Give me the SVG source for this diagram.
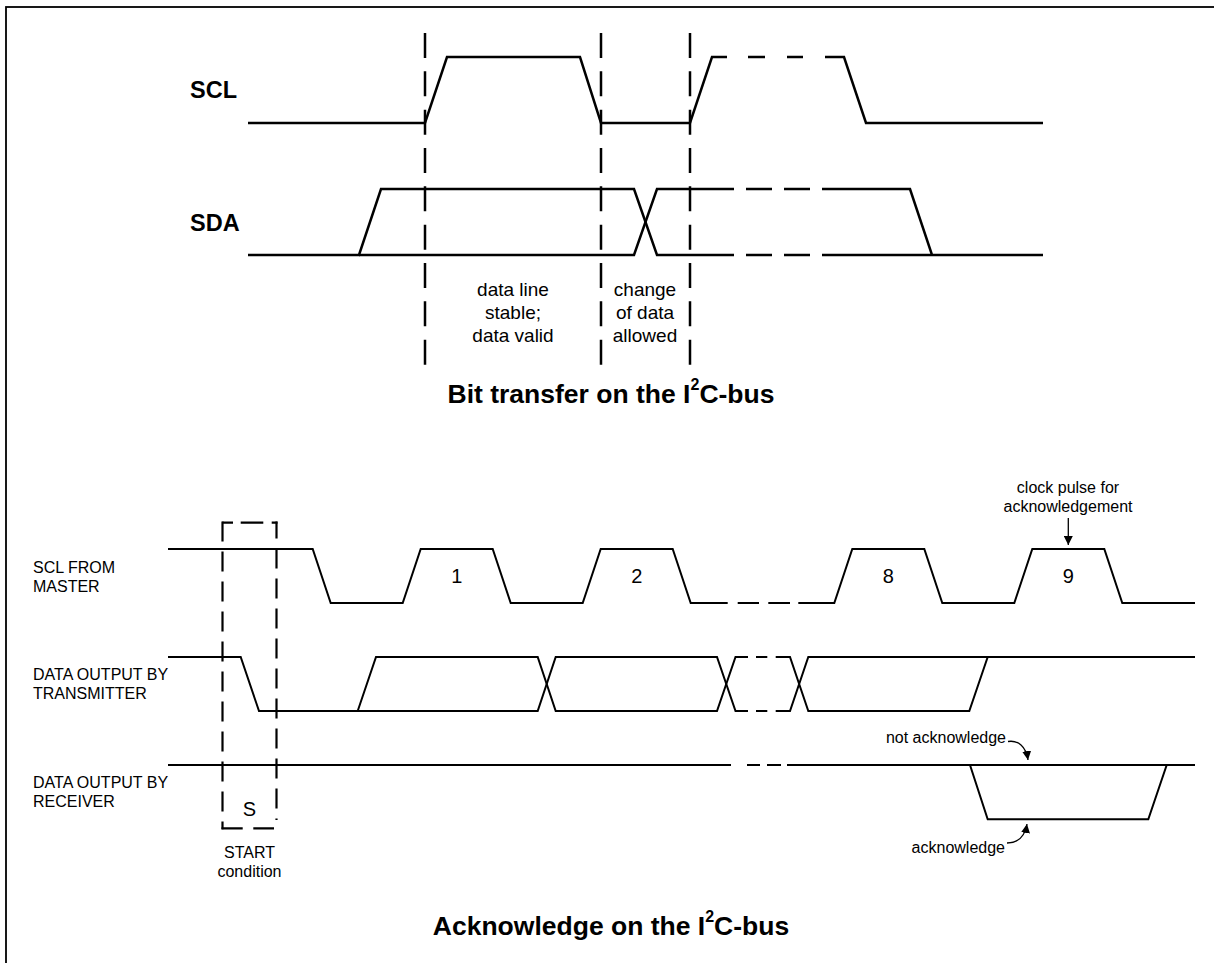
<svg xmlns="http://www.w3.org/2000/svg" width="1214" height="963" viewBox="0 0 1214 963">
<style>
.wt{fill:none;stroke:#000;stroke-width:2.5;stroke-linejoin:miter;stroke-linecap:butt}
.wb{fill:none;stroke:#000;stroke-width:2;stroke-linejoin:miter;stroke-linecap:butt}
.vd{fill:none;stroke:#000;stroke-width:2.5;stroke-dasharray:25 13.33}
.bx{fill:none;stroke:#000;stroke-width:2.2;stroke-dasharray:20 10}
.bxs{fill:none;stroke:#000;stroke-width:2.2}
.lblB{font-family:"Liberation Sans",Arial,sans-serif;font-weight:bold;font-size:23.5px;fill:#000}
.ttl{font-family:"Liberation Sans",Arial,sans-serif;font-weight:bold;font-size:26.5px;fill:#000;text-anchor:middle}
.t19{font-family:"Liberation Sans",Arial,sans-serif;font-size:19px;fill:#000;text-anchor:middle}
.t16{font-family:"Liberation Sans",Arial,sans-serif;font-size:16px;fill:#000}
.t20{font-family:"Liberation Sans",Arial,sans-serif;font-size:20px;fill:#000;text-anchor:middle}
.arr{fill:none;stroke:#000;stroke-width:1.3}
</style>
<defs>
<marker id="ah" viewBox="0 0 10 10" refX="10" refY="5" markerWidth="9" markerHeight="9" markerUnits="userSpaceOnUse" orient="auto">
<path d="M0,0 L10,5 L0,10 z" fill="#000"/>
</marker>
</defs>
<rect x="6" y="7" width="1300" height="1000" fill="#fff" stroke="#000" stroke-width="1.8"/>

<g id="bit-transfer">
<g id="scl-top">
<text class="lblB" x="190" y="98">SCL</text>
<path class="wt" d="M248,123 H425 L447,57 H580 L601,123 H690 L712,57 H727 M748,57 H765 M787,57 H803 M825,57 H844 L866,123 H1043"/>
</g>
<g id="sda-top">
<text class="lblB" x="190" y="231">SDA</text>
<path class="wt" d="M248,255 H359 L381,189 H634 L657,255 H734"/>
<path class="wt" d="M359,255 H634 L657,189 H734"/>
<path class="wt" d="M746,189 H772 M784,189 H810 M746,255 H772 M784,255 H810"/>
<path class="wt" d="M822,189 H910 L932,255 H1043 M822,255 H932"/>
</g>
<g id="markers-top">
<line class="vd" x1="425" y1="33" x2="425" y2="365"/>
<line class="vd" x1="601" y1="33" x2="601" y2="365"/>
<line class="vd" x1="690" y1="33" x2="690" y2="365"/>
</g>
<g id="label-stable">
<text class="t19" x="513" y="296">data line</text>
<text class="t19" x="513" y="319">stable;</text>
<text class="t19" x="513" y="342">data valid</text>
</g>
<g id="label-change">
<text class="t19" x="645" y="296">change</text>
<text class="t19" x="645" y="319">of data</text>
<text class="t19" x="645" y="342">allowed</text>
</g>
<text class="ttl" x="611" y="403">Bit transfer on the I<tspan font-size="16" dy="-13">2</tspan><tspan dy="13">C-bus</tspan></text>
</g>

<g id="acknowledge">
<g id="scl-master">
<text class="t16" x="33" y="573">SCL FROM</text>
<text class="t16" x="33" y="591.5">MASTER</text>
<path class="wb" d="M168,549 H312.7 L330.7,603 H402.7 L420.7,549 H492.7 L510.7,603 H582.7 L600.7,549 H672.7 L690.7,603 H727.7 M737.7,603 H759 M768.3,603 H790 M798.3,603 H834.3 L852.3,549 H924.3 L942.3,603 H1014.3 L1032.3,549 H1104.3 L1122.3,603 H1195"/>
<text class="t20" x="456.7" y="583">1</text>
<text class="t20" x="636.7" y="583">2</text>
<text class="t20" x="888.3" y="583">8</text>
<text class="t20" x="1068.3" y="583">9</text>
</g>
<g id="data-transmitter">
<text class="t16" x="33" y="680">DATA OUTPUT BY</text>
<text class="t16" x="33" y="699">TRANSMITTER</text>
<path class="wb" d="M168,657 H240.7 L259,711 H537.7 L555.7,657 H717 L735.5,711 H748"/>
<path class="wb" d="M357.7,711 L376,657 H537.7 L555.7,711 H717 L735.5,657 H748"/>
<path class="wb" d="M756,657 H767.3 M756,711 H767.3"/>
<path class="wb" d="M775.7,657 H790 L808.3,711 H969.3 L987.7,657 M775.7,711 H790 L808.3,657 H1195"/>
</g>
<g id="data-receiver">
<text class="t16" x="33" y="788.3">DATA OUTPUT BY</text>
<text class="t16" x="33" y="807">RECEIVER</text>
<path class="wb" d="M168,765 H731 M747,765 H760 M767,765 H781 M787,765 H1195"/>
<path class="wb" d="M970,765 L987.7,819.3 H1148.3 L1166.7,765"/>
</g>
<g id="start-condition">
<path class="bxs" d="M222.3,522.7 H233 M240.7,522.7 H263.3 M271.7,522.7 H277.5"/>
<path class="bxs" d="M221.5,828.3 H242.7 M253.3,828.3 H274"/>
<line class="bx" x1="222.5" y1="521.6" x2="222.5" y2="829.3" stroke-dashoffset="0"/>
<line class="bx" x1="276.5" y1="521.6" x2="276.5" y2="820" stroke-dashoffset="3"/>
<text class="t20" x="249.5" y="816">S</text>
<text class="t16" x="249.5" y="858" text-anchor="middle">START</text>
<text class="t16" x="249.5" y="877" text-anchor="middle">condition</text>
</g>
<g id="label-clock-pulse">
<text class="t16" x="1068" y="493" text-anchor="middle">clock pulse for</text>
<text class="t16" x="1068" y="512" text-anchor="middle">acknowledgement</text>
</g>
<g id="label-not-ack">
<text class="t16" x="1006" y="743" text-anchor="end">not acknowledge</text>
</g>
<g id="label-ack">
<text class="t16" x="1005" y="853" text-anchor="end">acknowledge</text>
</g>
<text class="ttl" x="611" y="935">Acknowledge on the I<tspan font-size="16" dy="-13">2</tspan><tspan dy="13">C-bus</tspan></text>
</g>

<g id="connectors">
<line class="arr" x1="1068.3" y1="518" x2="1068.3" y2="545" marker-end="url(#ah)"/>
<path class="arr" d="M1008,741.5 C1018,740 1026,746 1028,760" marker-end="url(#ah)"/>
<path class="arr" d="M1007,843 C1018,843 1025,836 1027,824" marker-end="url(#ah)"/>
</g>
</svg>
